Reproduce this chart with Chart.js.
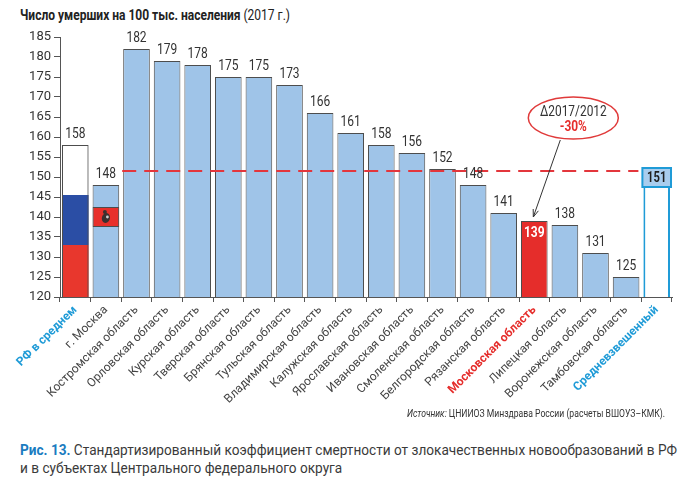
<!DOCTYPE html>
<html>
<head>
<meta charset="utf-8">
<script src="https://cdn.jsdelivr.net/npm/chart.js@4.4.1/dist/chart.umd.min.js"></script>
<style>
body { margin: 0; background: #fff; width: 694px; height: 494px; overflow: hidden; position: relative;
       font-family: Roboto, "Liberation Sans", sans-serif; }
#wrap { position: absolute; left: 0; top: 0; width: 694px; height: 420px; }
.fit { position: absolute; white-space: nowrap; transform-origin: left center; }
#title { left: 20px; top: 7px; font-size: 14px; color: #222; }
#source { left: 407px; top: 408px; font-size: 10px; color: #333; }
#cap1 { left: 20px; top: 441px; font-size: 15px; color: #3a3a3a; }
#cap2 { left: 20px; top: 459px; font-size: 15px; color: #3a3a3a; }
#cap1 b { color: #1a7cc0; }
</style>
</head>
<body>
<div id="title" class="fit" data-w="270"><b>Число умерших на 100 тыс. населения</b> (2017 г.)</div>
<div id="wrap"><canvas id="chart" width="694" height="420"></canvas></div>
<div id="source" class="fit" data-w="258"><i>Источник:</i> ЦНИИОЗ Минздрава России (расчеты ВШОУЗ–КМК).</div>
<div id="cap1" class="fit" data-w="657"><b>Рис. 13.</b> Стандартизированный коэффициент смертности от злокачественных новообразований в РФ</div>
<div id="cap2" class="fit">и в субъектах Центрального федерального округа</div>
<script>
const regions = ['РФ в среднем', 'г. Москва', 'Костромская область', 'Орловская область', 'Курская область',
  'Тверская область', 'Брянская область', 'Тульская область', 'Владимирская область', 'Калужская область',
  'Ярославская область', 'Ивановская область', 'Смоленская область', 'Белгородская область', 'Рязанская область',
  'Московская область', 'Липецкая область', 'Воронежская область', 'Тамбовская область', 'Средневзвешенный'];
const rates = [158, 148, 182, 179, 178, 175, 175, 173, 166, 161, 158, 156, 152, 148, 141, 139, 138, 131, 125, 151];
// flag stripes of the Russia bar and the Moscow emblem plate
const flagRed = [120, 133];
const flagBlue = [133, 145.5];
const emblemPlate = [137.5, 142.5];
const refLevel = 151.5;
const deltaText = ['Δ2017/2012', '-30%'];
const yMin = 120, yMax = 185, yStep = 5;

// squeeze the html text lines into the widths they have in the figure
let capScale = 1;
document.querySelectorAll('.fit').forEach(el => {
  if (!el.dataset.w) return;
  const k = el.dataset.w / el.getBoundingClientRect().width;
  el.style.transform = 'scaleX(' + k + ')';
  if (el.id === 'cap1') capScale = k;
});
document.getElementById('cap2').style.transform = 'scaleX(' + capScale + ')';

const RF = 0, MSK = 1, MO = 15, AVG = 19;
const blueBar = '#9fc4e8', redBar = '#e52d2b', accentBlue = '#1f9bd7';
const font = 'Roboto, "Liberation Sans", sans-serif';

function onlyAt(i, v) {
  return regions.map((_, k) => k === i ? v : null);
}

const mainColors = regions.map((_, i) => i === RF ? 'rgba(0,0,0,0)' : i === MO ? redBar : i === AVG ? '#ffffff' : blueBar);
const mainBorders = regions.map((_, i) => i === AVG ? accentBlue : '#4d4d4d');
const mainBorderW = regions.map((_, i) => i === AVG ? 2 : 1);

function narrowText(ctx, txt, x, y, k) {
  ctx.save();
  ctx.translate(x, y);
  ctx.scale(k, 1);
  ctx.fillText(txt, 0, 0);
  ctx.restore();
}

const overlay = {
  id: 'overlay',
  afterDatasetsDraw(chart) {
    const ctx = chart.ctx;
    const xs = chart.scales.x, ys = chart.scales.y;
    const bars = chart.getDatasetMeta(1).data;
    const cat = xs.getPixelForValue(1) - xs.getPixelForValue(0);
    ctx.save();

    // reference dashed line
    ctx.strokeStyle = '#e3363c';
    ctx.lineWidth = 2;
    ctx.setLineDash([14, 8]);
    ctx.beginPath();
    const ly = ys.getPixelForValue(refLevel);
    ctx.moveTo(xs.getPixelForValue(2) - cat / 2 + 1, ly);
    ctx.lineTo(xs.getPixelForValue(AVG) - cat / 2 - 3, ly);
    ctx.stroke();
    ctx.setLineDash([]);

    // value labels
    ctx.textAlign = 'center';
    ctx.textBaseline = 'middle';
    bars.forEach((el, i) => {
      if (i === MO) {
        ctx.fillStyle = '#fff';
        ctx.font = 'bold 15px ' + font;
        narrowText(ctx, rates[i], el.x, el.y + 12, 0.8);
      } else if (i === AVG) {
        const w = el.width + 2;
        ctx.fillStyle = '#a9cdee';
        ctx.strokeStyle = accentBlue;
        ctx.lineWidth = 2;
        ctx.fillRect(el.x - w / 2, el.y - 5, w, 19);
        ctx.strokeRect(el.x - w / 2, el.y - 5, w, 19);
        ctx.fillStyle = '#1e1e1e';
        ctx.font = 'bold 14px ' + font;
        narrowText(ctx, rates[i], el.x, el.y + 5, 0.8);
      } else {
        ctx.fillStyle = '#333';
        ctx.font = '15px ' + font;
        narrowText(ctx, rates[i], el.x, el.y - 11, 0.8);
      }
    });

    // small emblem mark on the Moscow plate
    const em = bars[MSK];
    const ey = ys.getPixelForValue((emblemPlate[0] + emblemPlate[1]) / 2);
    ctx.fillStyle = '#3b3030';
    ctx.beginPath();
    ctx.ellipse(em.x, ey + 1, 4, 5, 0.3, 0, Math.PI * 2);
    ctx.fill();
    ctx.beginPath();
    ctx.arc(em.x - 1, ey - 5, 2, 0, Math.PI * 2);
    ctx.fill();
    ctx.fillStyle = '#cfcfcf';
    ctx.beginPath();
    ctx.arc(em.x + 1.5, ey, 1.4, 0, Math.PI * 2);
    ctx.fill();

    // callout bubble + arrow to the Moscow oblast bar
    const mo = bars[MO];
    const cx = mo.x + 39, cy = mo.y - 103;
    ctx.strokeStyle = '#e03a3a';
    ctx.lineWidth = 1.5;
    ctx.fillStyle = '#fff';
    ctx.beginPath();
    ctx.ellipse(cx, cy, 45, 21, 0, 0, Math.PI * 2);
    ctx.fill();
    ctx.stroke();
    ctx.fillStyle = '#333';
    ctx.font = '14px ' + font;
    narrowText(ctx, deltaText[0], cx, cy - 6, 0.85);
    ctx.fillStyle = '#e52d2b';
    ctx.font = 'bold 14px ' + font;
    narrowText(ctx, deltaText[1], cx, cy + 9, 0.85);

    const ax0 = cx - 13, ay0 = cy + 22, ax1 = mo.x - 1, ay1 = mo.y - 4;
    ctx.strokeStyle = '#333';
    ctx.lineWidth = 1;
    ctx.beginPath();
    ctx.moveTo(ax0, ay0);
    ctx.lineTo(ax1, ay1);
    ctx.stroke();
    const ang = Math.atan2(ay1 - ay0, ax1 - ax0);
    ctx.beginPath();
    ctx.moveTo(ax1, ay1);
    ctx.lineTo(ax1 - 8 * Math.cos(ang - 0.35), ay1 - 8 * Math.sin(ang - 0.35));
    ctx.moveTo(ax1, ay1);
    ctx.lineTo(ax1 - 8 * Math.cos(ang + 0.35), ay1 - 8 * Math.sin(ang + 0.35));
    ctx.stroke();
    ctx.restore();
  }
};

new Chart(document.getElementById('chart'), {
  type: 'bar',
  data: {
    labels: regions,
    datasets: [
      { data: onlyAt(RF, flagRed), backgroundColor: '#e8372d', borderWidth: 0, order: 2 },
      { data: rates, backgroundColor: mainColors, borderColor: mainBorders, borderWidth: mainBorderW, order: 1 },
      { data: onlyAt(RF, flagBlue), backgroundColor: '#2b4ea5', borderWidth: 0, order: 2 },
      { data: onlyAt(MSK, emblemPlate), backgroundColor: '#e8302b', borderColor: '#4d4d4d', borderWidth: 1,
        borderSkipped: false, order: 0 }
    ]
  },
  options: {
    responsive: false,
    animation: false,
    grouped: false,
    categoryPercentage: 1,
    barPercentage: 0.87,
    layout: { padding: { top: 37, right: 22, left: 0, bottom: 13 } },
    plugins: { legend: { display: false }, tooltip: { enabled: false } },
    scales: {
      y: {
        min: yMin, max: yMax,
        afterFit(s) { s.width = 60; },
        border: { color: '#555', width: 1 },
        grid: { drawOnChartArea: false, tickLength: 6, color: '#555' },
        ticks: { stepSize: yStep, color: '#333', padding: 3, font: { family: font, size: 13 } }
      },
      x: {
        afterFit(s) { s.height = 110; },
        border: { color: '#555', width: 1 },
        grid: { drawOnChartArea: false, tickLength: 5, color: '#555' },
        ticks: {
          autoSkip: false, minRotation: 45, maxRotation: 45, padding: 1,
          color: c => (c.index === RF || c.index === AVG) ? accentBlue : c.index === MO ? '#e52d2b' : '#444',
          font: c => ({ family: font, size: 12, weight: (c.index === RF || c.index === AVG || c.index === MO) ? 'bold' : 'normal' })
        }
      }
    }
  },
  plugins: [overlay]
});
</script>
</body>
</html>
